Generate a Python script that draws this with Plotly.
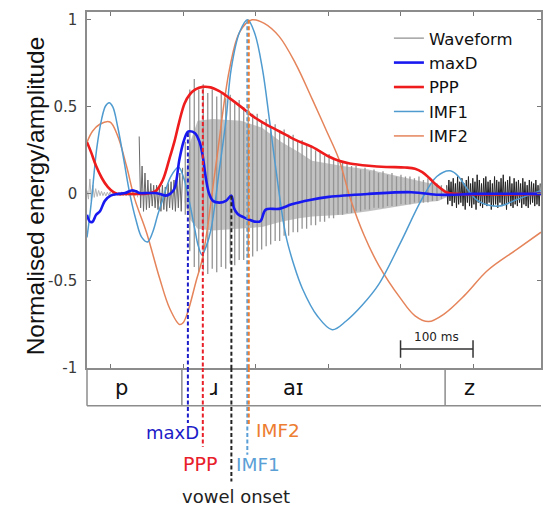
import plotly.graph_objects as go

# ---------------- axes ----------------
x_range = [67.4, 693.8]          # time, ms
y_range = [-1.0, 1.045]
x_ticks = [100, 200, 300, 400, 500, 600]
y_ticks = [-1, -0.5, 0, 0.5, 1]
y_tick_labels = ["-1", "-0.5", "0", "0.5", "1"]

# ---------------- smooth curves (time ms, value) ----------------
imf1_t = [67.4, 70.5, 73.8, 80.7, 87.6, 93, 98, 103, 110, 118, 126.5, 135, 143, 150.8, 158, 165, 172,
          183, 193.8, 201, 208.9, 216, 221, 226, 232, 238.7, 250.1, 259.3, 266.2, 278, 289, 299, 309.6,
          319, 328, 341.7, 353, 364.5, 385, 405.7, 425, 447, 469.9, 500, 529.4, 550, 568.4, 580, 589,
          607, 635, 662, 693.8]
imf1_y = [-0.25, -0.15, -0.03, 0.257, 0.43, 0.505, 0.524, 0.5, 0.38, 0.2, 0.0, -0.15, -0.25, -0.276,
          -0.22, -0.12, -0.03, 0.1, 0.153, 0.09, -0.05, -0.2, -0.3, -0.35, -0.3, -0.2, 0.143, 0.43,
          0.714, 0.93, 1.0, 0.92, 0.714, 0.43, 0.143, -0.238, -0.41, -0.543, -0.7, -0.78, -0.73, -0.64,
          -0.52, -0.28, -0.03, 0.1, 0.133, 0.1, 0.047, -0.04, -0.07, -0.03, 0.02]

imf2_t = [67.4, 75, 85, 99, 110, 121.9, 133.3, 149.4, 167.7, 181.4, 195.1, 200, 206.6, 218, 227.2,
          245.4, 263.9, 278, 295, 312, 332.5, 355, 378.3, 397, 414.9, 431, 450, 469.9, 500, 520,
          538.6, 560, 589, 620, 660, 693.8]
imf2_y = [0.297, 0.36, 0.4, 0.413, 0.33, 0.16, -0.03, -0.22, -0.486, -0.657, -0.75, -0.74, -0.676,
          -0.5, -0.36, 0.17, 0.714, 0.93, 1.0, 0.98, 0.905, 0.75, 0.543, 0.37, 0.2, -0.03, -0.24,
          -0.41, -0.6, -0.7, -0.733, -0.69, -0.58, -0.44, -0.32, -0.22]

ppp_t = [67.4, 73, 80, 88, 96, 104, 110, 125, 145, 155, 163, 172, 181, 188, 195, 202, 209, 217, 227,
         238, 250, 264, 280, 295, 310, 332.5, 355, 378, 401, 415, 430, 456, 480, 506, 520, 530, 540,
         548, 556, 564, 575, 693.8]
ppp_y = [0.297, 0.24, 0.16, 0.09, 0.04, 0.01, 0.0, 0.0, 0.0, 0.005, 0.02, 0.08, 0.2, 0.3, 0.42, 0.52,
         0.57, 0.6, 0.615, 0.612, 0.59, 0.55, 0.5, 0.45, 0.41, 0.36, 0.31, 0.27, 0.215, 0.19, 0.175,
         0.162, 0.155, 0.152, 0.145, 0.125, 0.09, 0.057, 0.03, 0.008, 0.0, 0.0]

maxd_t = [67.4, 71.5, 75, 80, 85.3, 92, 100, 110, 120, 128.8, 135, 140, 150, 160, 168, 176, 182, 188,
          195, 200.6, 206, 209, 216, 222.6, 227, 231.6, 236, 241, 250, 259, 266.6, 270, 275, 286.8,
          300.5, 307, 314, 332.5, 350, 375, 401, 456, 515, 552, 570, 600, 693.8]
maxd_y = [-0.12, -0.16, -0.16, -0.12, -0.1, -0.04, -0.01, 0.0, 0.005, 0.02, 0.015, 0.005, 0.005, 0.005,
          0.0, -0.01, 0.0, 0.03, 0.2, 0.3, 0.355, 0.36, 0.35, 0.3, 0.22, 0.086, 0.0, -0.04, -0.05,
          -0.04, -0.01, -0.08, -0.114, -0.14, -0.16, -0.155, -0.09, -0.086, -0.06, -0.035, -0.017,
          0.0, 0.01, -0.005, -0.005, 0.0, 0.0]

# ---------------- waveform ----------------
preburst_start_ms, noise_step_ms = 67.4, 2.0
preburst_noise = [0.02, -0.03, 0.086, -0.04, 0.05, -0.02, 0.03, -0.015, 0.02, -0.01, 0.015, -0.01,
                  0.01, -0.012, 0.01, -0.008, 0.012, -0.01, 0.008, -0.01, 0.01, -0.008, 0.01, -0.01,
                  0.012, -0.01, 0.01, -0.012, 0.01, -0.01, 0.012, -0.01, 0.015, -0.012, 0.02, -0.02]
burst_start_ms = 139.4
burst_noise = [0.33, -0.08, 0.16, -0.1, 0.12, -0.09, 0.08, -0.08, 0.06, -0.07, 0.05, -0.08, 0.05,
               -0.09, 0.04, -0.1, 0.05, -0.09, 0.04, -0.1, 0.06, -0.08, 0.07, -0.09, 0.08, -0.1, 0.1,
               -0.08, 0.12, -0.1, 0.15]

pulse_start_ms, pulse_period_ms = 203.0, 6.2
pulse_hi = [0.30, 0.60, 0.66, 0.60, 0.63, 0.58, 0.60, 0.56, 0.58, 0.55, 0.57, 0.53, 0.54, 0.50, 0.50,
            0.46, 0.46, 0.42, 0.43, 0.39, 0.40, 0.36, 0.37, 0.34, 0.34, 0.31, 0.31, 0.28, 0.28, 0.25,
            0.25, 0.22, 0.23, 0.20, 0.20, 0.18, 0.18, 0.16, 0.16, 0.14, 0.15, 0.13, 0.14, 0.12, 0.13,
            0.11, 0.12, 0.10, 0.11, 0.10, 0.10, 0.09, 0.10, 0.08, 0.09, 0.07, 0.06, 0.05]
pulse_lo = [-0.12, -0.33, -0.42, -0.45, -0.44, -0.46, -0.43, -0.45, -0.42, -0.43, -0.40, -0.41, -0.38,
            -0.38, -0.35, -0.36, -0.33, -0.32, -0.30, -0.29, -0.27, -0.27, -0.24, -0.24, -0.22, -0.22,
            -0.20, -0.20, -0.18, -0.18, -0.16, -0.16, -0.14, -0.14, -0.12, -0.12, -0.11, -0.11, -0.10,
            -0.10, -0.09, -0.09, -0.08, -0.08, -0.08, -0.07, -0.07, -0.07, -0.06, -0.06, -0.06, -0.05,
            -0.05, -0.05, -0.05, -0.04, -0.04, -0.03]

core_t = [202, 210, 220, 241, 280, 309, 335, 360, 378, 420, 456, 500, 530, 552, 563]
core_hi = [0.05, 0.3, 0.42, 0.43, 0.42, 0.38, 0.3, 0.24, 0.19, 0.16, 0.14, 0.1, 0.07, 0.05, 0.02]
core_lo = [-0.05, -0.15, -0.2, -0.21, -0.2, -0.19, -0.16, -0.14, -0.13, -0.12, -0.1, -0.07, -0.05,
           -0.04, -0.02]

fric_start_ms, fric_step_ms = 563.7, 1.5
fric_noise = [0.05, -0.06, 0.08, -0.04, 0.07, -0.07, 0.09, -0.05, 0.06, -0.08, 0.1, -0.06, 0.07, -0.05,
              0.09, -0.07, 0.06, -0.09, 0.08, -0.05, 0.1, -0.07, 0.06, -0.08, 0.09, -0.06, 0.07, -0.09,
              0.11, -0.05, 0.08, -0.07, 0.06, -0.08, 0.09, -0.06, 0.1, -0.07, 0.07, -0.05, 0.08, -0.09,
              0.06, -0.07, 0.1, -0.06, 0.08, -0.08, 0.07, -0.05, 0.09, -0.07, 0.11, -0.06, 0.07, -0.09,
              0.08, -0.05, 0.1, -0.07, 0.06, -0.08, 0.09, -0.06, 0.07, -0.07, 0.08, -0.05, 0.06, -0.08,
              0.09, -0.06, 0.07, -0.07, 0.05, -0.08, 0.08, -0.06, 0.07, -0.05, 0.06, -0.07, 0.08, -0.06,
              0.05, -0.07, 0.06]

# ---------------- segmentation tier ----------------
segment_labels = ["p", "\u0279", "a\u026a", "z"]
segment_label_t = [115.1, 243.2, 352.4, 595.8]
segment_boundaries = [198.3, 561.5]

# ---------------- event markers ----------------
event_names = ["maxD", "PPP", "vowel onset", "IMF1", "IMF2"]
event_t = [206.6, 227.2, 266.6, 288.6, 290.6]
event_top = [0.35, 0.6, -0.01, 1.0, 1.0]

scale_bar_start, scale_bar_len = 500, 100

# ---------------- styling ----------------
C_WAVE = "rgb(148,148,148)"
C_MAXD = "#1818f0"
C_PPP = "#ee1c1c"
C_IMF1 = "#4f9bd0"
C_IMF2 = "#e5845a"
FONT = "DejaVu Sans"

fig = go.Figure()

# waveform: core band
fig.add_trace(go.Scatter(x=core_t + core_t[::-1], y=core_hi + core_lo[::-1], fill="toself",
                         fillcolor="rgba(95,95,95,0.38)", line=dict(width=0), mode="lines",
                         showlegend=False, hoverinfo="skip"))
# waveform: glottal pulses
px, py = [], []
for i, (hi, lo) in enumerate(zip(pulse_hi, pulse_lo)):
    t = pulse_start_ms + i * pulse_period_ms
    px += [t, t, None]
    py += [lo, hi, None]
fig.add_trace(go.Scatter(x=px, y=py, mode="lines", line=dict(color=C_WAVE, width=1.3),
                         name="Waveform", legendrank=1))
fig.add_trace(go.Scatter(x=[preburst_start_ms + i * noise_step_ms for i in range(len(preburst_noise))],
                         y=preburst_noise, mode="lines", line=dict(color="rgb(180,180,180)", width=1),
                         showlegend=False))
fig.add_trace(go.Scatter(x=[burst_start_ms + i * noise_step_ms for i in range(len(burst_noise))],
                         y=burst_noise, mode="lines", line=dict(color="rgb(105,105,105)", width=1),
                         showlegend=False))
fig.add_trace(go.Scatter(x=[fric_start_ms + i * fric_step_ms for i in range(len(fric_noise))],
                         y=fric_noise, mode="lines", line=dict(color="rgb(35,35,35)", width=1),
                         showlegend=False))

fig.add_trace(go.Scatter(x=imf2_t, y=imf2_y, mode="lines", line=dict(color=C_IMF2, width=1.5, shape="spline"),
                         name="IMF2", legendrank=5))
fig.add_trace(go.Scatter(x=imf1_t, y=imf1_y, mode="lines", line=dict(color=C_IMF1, width=1.5, shape="spline"),
                         name="IMF1", legendrank=4))
fig.add_trace(go.Scatter(x=ppp_t, y=ppp_y, mode="lines", line=dict(color=C_PPP, width=2.6, shape="spline"),
                         name="PPP", legendrank=3))
fig.add_trace(go.Scatter(x=maxd_t, y=maxd_y, mode="lines", line=dict(color=C_MAXD, width=2.6, shape="spline"),
                         name="maxD", legendrank=2))

shapes = []
annotations = []
GRAY = "#8c8c8c"
# tier box
tier_bottom = -0.106
shapes.append(dict(type="line", xref="paper", yref="paper", x0=0, x1=1, y0=tier_bottom, y1=tier_bottom,
                   line=dict(color=GRAY, width=1.5)))
shapes.append(dict(type="line", xref="paper", yref="paper", x0=0, x1=0, y0=0, y1=tier_bottom,
                   line=dict(color=GRAY, width=1.5)))
for b in segment_boundaries:
    shapes.append(dict(type="line", xref="x", yref="paper", x0=b, x1=b, y0=0, y1=tier_bottom,
                       line=dict(color=GRAY, width=1.5)))
for lab, t in zip(segment_labels, segment_label_t):
    annotations.append(dict(x=t, y=-0.057, xref="x", yref="paper", text=lab, showarrow=False,
                            font=dict(family=FONT, size=21, color="#111"), yanchor="middle"))

# event dashed lines + labels
ev_colors = ["#1c1cc8", "#e8202a", "#222222", "#5a9fd6", "#ed7d31"]
ev_bottom = [-0.1545, -0.221, -0.319, -0.244, -0.16]
ev_label_y = [-0.182, -0.2705, -0.3615, -0.2705, -0.176]
ev_anchor = ["right", "center", "center", "center", "center"]
ev_shift = [13, -3, 5, 11, 29]
ev_fs = [18, 19, 18, 18.5, 18.5]
for name, t, top, col, bot, ly, anc, sh, fs in zip(event_names, event_t, event_top, ev_colors, ev_bottom,
                                                     ev_label_y, ev_anchor, ev_shift, ev_fs):
    dash = dict(color=col, width=2, dash="4px,2.5px")
    shapes.append(dict(type="line", xref="x", yref="y", x0=t, x1=t, y0=top, y1=y_range[0], line=dash,
                       layer="above"))
    shapes.append(dict(type="line", xref="x", yref="paper", x0=t, x1=t, y0=0, y1=bot, line=dash,
                       layer="above"))
    annotations.append(dict(x=t, y=ly, xref="x", yref="paper", text=name, showarrow=False, xanchor=anc,
                            xshift=sh, yanchor="middle", font=dict(family=FONT, size=fs, color=col)))

# scale bar
sb_y = -0.891
sb_col = "#333333"
shapes.append(dict(type="line", xref="x", yref="y", x0=scale_bar_start, x1=scale_bar_start + scale_bar_len,
                   y0=sb_y, y1=sb_y, line=dict(color=sb_col, width=1.5)))
for xx in (scale_bar_start, scale_bar_start + scale_bar_len):
    shapes.append(dict(type="line", xref="x", yref="y", x0=xx, x1=xx, y0=sb_y + 0.05, y1=sb_y - 0.05,
                       line=dict(color=sb_col, width=1.5)))
annotations.append(dict(x=scale_bar_start + scale_bar_len / 2, y=sb_y + 0.016, xref="x", yref="y",
                        text=f"{scale_bar_len} ms", showarrow=False, yanchor="bottom",
                        font=dict(family=FONT, size=12, color="#222")))

# y title
annotations.append(dict(x=-0.148, y=0.483, xref="paper", yref="paper", text="Normalised energy/amplitude",
                        textangle=-90, showarrow=False, font=dict(family="Liberation Sans", size=24.5,
                                                                  color="#111")))

fig.update_layout(
    width=543, height=506,
    margin=dict(l=87, r=0, t=12, b=138),
    paper_bgcolor="white", plot_bgcolor="white",
    showlegend=True,
    legend=dict(x=0.665, y=0.975, xanchor="left", yanchor="top", bgcolor="rgba(0,0,0,0)",
                font=dict(family=FONT, size=16.5, color="#111"), itemwidth=30, tracegroupgap=0),
    shapes=shapes, annotations=annotations,
    xaxis=dict(range=x_range, tickvals=x_ticks, showticklabels=False, ticks="inside", ticklen=4,
               tickcolor="#777", showline=True, linecolor=GRAY, linewidth=1.5, mirror="ticks",
               showgrid=False, zeroline=False),
    yaxis=dict(range=y_range, tickvals=y_ticks, ticktext=y_tick_labels, ticks="inside", ticklen=4,
               tickcolor="#777", showline=True, linecolor=GRAY, linewidth=1.5, mirror="ticks",
               showgrid=False, zeroline=False, ticklabelstandoff=5,
               tickfont=dict(family=FONT, size=15, color="#3a3a3a")),
)

fig.write_html("out.html", config={"displayModeBar": False},
               post_script="document.body.style.margin='0';document.body.style.overflow='hidden';")
